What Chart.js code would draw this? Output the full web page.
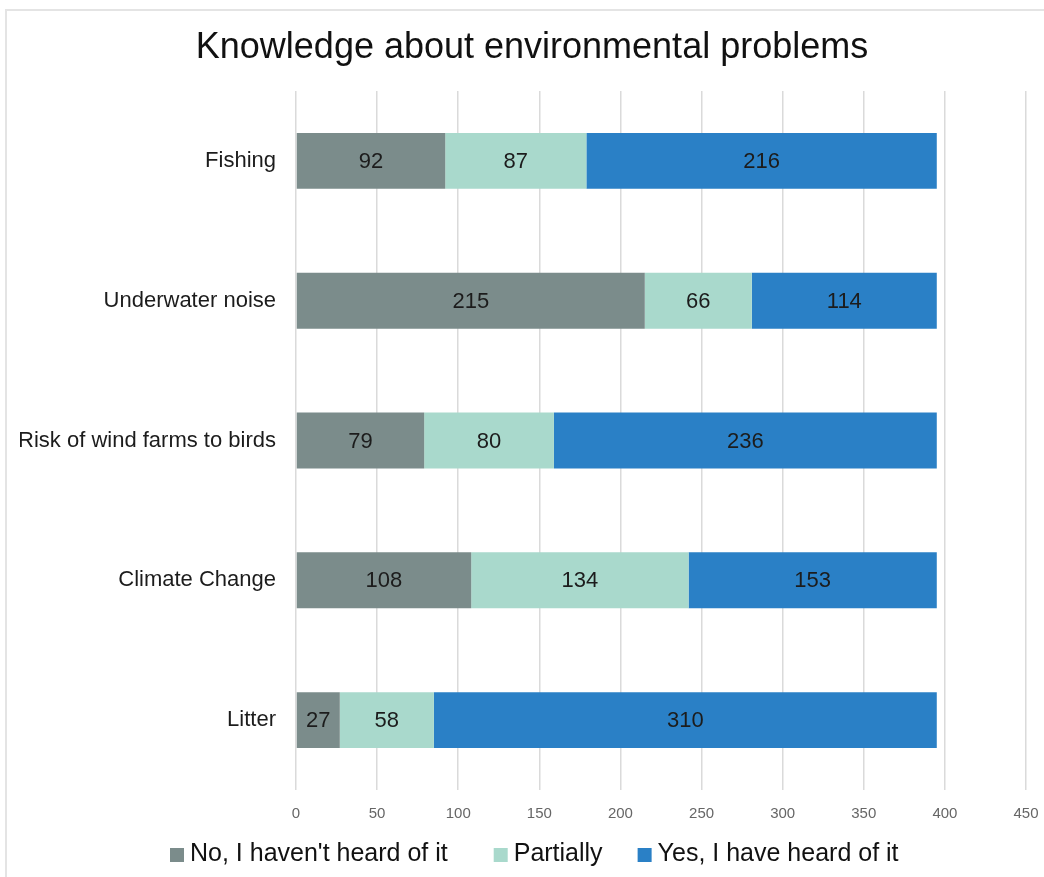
<!DOCTYPE html>
<html>
<head>
<meta charset="utf-8">
<title>Knowledge about environmental problems</title>
<script src="https://cdn.jsdelivr.net/npm/chart.js@4"></script>
<style>
  html, body { margin: 0; padding: 0; background: #fff; }
  #wrap { width: 1044px; height: 877px; position: relative; }
</style>
</head>
<body>
<div id="wrap"><canvas id="knowChart" width="1044" height="877"></canvas></div>
<script>
// ---- data ----
const topics = ['Fishing', 'Underwater noise', 'Risk of wind farms to birds', 'Climate Change', 'Litter'];
const notHeard = [92, 215, 79, 108, 27];
const partially = [87, 66, 80, 134, 58];
const heard = [216, 114, 236, 153, 310];
const seriesNames = ["No, I haven't heard of it", 'Partially', 'Yes, I have heard of it'];
const xTicks = [0, 50, 100, 150, 200, 250, 300, 350, 400, 450];
const chartTitle = 'Knowledge about environmental problems';

const colors = ['#7b8c8b', '#a9d9cc', '#2a80c6'];
const FONT = "'Liberation Sans', Arial, Helvetica, sans-serif";

// white background, thin light frame and the heading
const framePlugin = {
    id: 'frame',
    beforeDraw(chart) {
        const ctx = chart.ctx;
        ctx.save();
        ctx.fillStyle = '#ffffff';
        ctx.fillRect(0, 0, chart.width, chart.height);
        ctx.strokeStyle = '#e4e4e4';
        ctx.lineWidth = 2;
        ctx.strokeRect(6, 10, chart.width + 20, chart.height + 20);
        ctx.fillStyle = '#111111';
        ctx.font = '36px ' + FONT;
        ctx.textAlign = 'center';
        ctx.textBaseline = 'middle';
        ctx.fillText(chartTitle, 532, 48);
        ctx.restore();
    }
};

// value written in the middle of every segment
const segmentLabels = {
    id: 'segmentLabels',
    afterDatasetsDraw(chart) {
        const ctx = chart.ctx;
        ctx.save();
        ctx.font = '22px ' + FONT;
        ctx.fillStyle = '#1c1c1c';
        ctx.textAlign = 'center';
        ctx.textBaseline = 'middle';
        chart.data.datasets.forEach((ds, i) => {
            const meta = chart.getDatasetMeta(i);
            meta.data.forEach((bar, j) => {
                const p = bar.getCenterPoint();
                ctx.fillText(String(ds.data[j]), p.x, p.y + 1);
            });
        });
        ctx.restore();
    }
};

// legend under the axis: square swatch + series name
const bottomLegend = {
    id: 'bottomLegend',
    afterDraw(chart) {
        const ctx = chart.ctx;
        const box = 14, gapText = 6;
        const gaps = [46, 35];
        ctx.save();
        ctx.font = '25px ' + FONT;
        ctx.textBaseline = 'middle';
        ctx.textAlign = 'left';
        let x = 170;
        const y = 854;
        chart.data.datasets.forEach((ds, i) => {
            ctx.fillStyle = ds.backgroundColor;
            ctx.fillRect(x, y - box / 2 + 1, box, box);
            ctx.fillStyle = '#111111';
            ctx.fillText(ds.label, x + box + gapText, y);
            x += box + gapText + ctx.measureText(ds.label).width + (gaps[i] || 0);
        });
        ctx.restore();
    }
};

const stacks = [notHeard, partially, heard];

new Chart(document.getElementById('knowChart'), {
    type: 'bar',
    data: {
        labels: topics,
        datasets: stacks.map((vals, i) => ({
            label: seriesNames[i],
            data: vals,
            backgroundColor: colors[i],
            borderWidth: 0,
            categoryPercentage: 1,
            barPercentage: 0.4
        }))
    },
    options: {
        indexAxis: 'y',
        responsive: false,
        animation: false,
        devicePixelRatio: 1,
        layout: { padding: { left: 20, right: 18, top: 91, bottom: 54 } },
        plugins: {
            legend: { display: false },
            tooltip: { enabled: false },
            title: { display: false }
        },
        scales: {
            x: {
                stacked: true,
                min: 0,
                max: 450,
                afterBuildTicks(scale) {
                    scale.ticks = xTicks.map(v => ({ value: v }));
                },
                afterFit(scale) {
                    scale.height = 33;
                    scale.paddingLeft = 0;
                    scale.paddingRight = 0;
                },
                grid: { color: '#dadada', lineWidth: 1.5, drawTicks: false },
                border: { display: false },
                ticks: {
                    color: '#666666',
                    padding: 15,
                    font: { family: FONT, size: 15 }
                }
            },
            y: {
                stacked: true,
                afterFit(scale) { scale.width = 276; },
                grid: { display: false, drawTicks: false },
                border: { display: false },
                ticks: {
                    color: '#1c1c1c',
                    padding: 20,
                    font: { family: FONT, size: 22 }
                }
            }
        }
    },
    plugins: [framePlugin, segmentLabels, bottomLegend]
});
</script>
</body>
</html>
